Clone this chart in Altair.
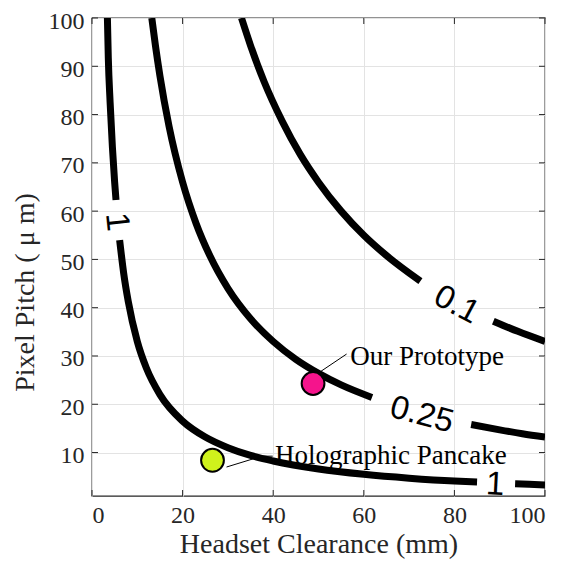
import altair as alt
import pandas as pd

# ---- data ----
# contour "1"
c1_a_x = [3.4, 3.6, 4.0, 4.5, 5.0, 5.3]
c1_a_y = [100, 91.7, 82.5, 73.3, 66.0, 62.3]
c1_b_x = [6.1, 7, 8, 10, 12, 15, 20, 25, 30, 35, 40, 50, 60, 70, 80, 85]
c1_b_y = [54, 47.1, 41.3, 33, 27.5, 22, 16.5, 13.2, 11, 9.4, 8.25, 6.6, 5.5, 4.7, 4.1, 3.9]
c1_c_x = [93.4, 96.5, 100]
c1_c_y = [3.53, 3.42, 3.3]
# contour "0.25"
c25_a_x = [13.2, 14, 15, 17, 20, 23, 26, 30, 35, 40, 45, 50, 55, 61.8]
c25_a_y = [100, 94.3, 88, 77.6, 66, 57.4, 50.8, 44, 37.7, 33, 29.3, 26.4, 24, 21.4]
c25_b_x = [83.7, 90, 95, 100]
c25_b_y = [15.8, 14.7, 13.9, 13.2]
# contour "0.1"
c10_a_x = [33, 35, 38, 42, 46, 50, 55, 60, 65, 72.5]
c10_a_y = [100, 94.3, 86.8, 78.6, 71.7, 66, 60, 55, 50.8, 45.5]
c10_b_x = [88.6, 94, 100]
c10_b_y = [37.2, 35.1, 33]

label_text = ["1", "1", "0.25", "0.1"]
label_x = [5.5, 89.0, 72.8, 80.5]
label_y = [57.8, 3.4, 17.8, 40.6]
label_angle = [84, 3, 15, 28]

point_names = ["Our Prototype", "Holographic Pancake"]
point_x = [48.8, 26.6]
point_y = [24.3, 8.4]
point_colors = ["#F5148C", "#CFF21C"]

note_x = [57.0, 40.4]
note_y = [29.7, 9.25]
lead_id = ["a", "a", "b", "b", "b"]
lead_x = [50.5, 56.2, 29.7, 37.5, 39.9]
lead_y = [26.8, 30.4, 7.0, 9.25, 9.25]

x_ticks = [0, 20, 40, 60, 80, 100]
y_ticks = [10, 20, 30, 40, 50, 60, 70, 80, 90, 100]

# ---- tables ----
segs = [("1a", c1_a_x, c1_a_y), ("1b", c1_b_x, c1_b_y), ("1c", c1_c_x, c1_c_y),
        ("25a", c25_a_x, c25_a_y), ("25b", c25_b_x, c25_b_y),
        ("10a", c10_a_x, c10_a_y), ("10b", c10_b_x, c10_b_y)]
rows = []
for sid, xs_, ys_ in segs:
    for i, (a, b) in enumerate(zip(xs_, ys_)):
        rows.append({"seg": sid, "x": a, "y": b, "o": i})
curves = pd.DataFrame(rows)
labels = pd.DataFrame({"t": label_text, "x": label_x, "y": label_y, "a": label_angle})
pts = pd.DataFrame({"n": point_names, "x": point_x, "y": point_y, "c": point_colors})
notes = pd.DataFrame({"n": point_names, "x": note_x, "y": note_y})
leads = pd.DataFrame({"id": lead_id, "x": lead_x, "y": lead_y, "o": list(range(len(lead_x)))})
xt = pd.DataFrame({"v": x_ticks})
yt = pd.DataFrame({"v": y_ticks})

W, H = 453, 478
SERIF = "Liberation Serif"
AX = "#262626"

xs = alt.Scale(domain=[0, 100], nice=False, zero=False)
ys = alt.Scale(domain=[1, 100], nice=False, zero=False)

xaxis = alt.Axis(values=x_ticks, title="Headset Clearance (mm)", labelPadding=7,
                 titleBaseline="alphabetic", titleY=56, titleFontSize=28)
yaxis = alt.Axis(values=y_ticks, title="Pixel Pitch ( μ m)", labelPadding=8, labelOffset=3,
                 titleX=-59, titleY=274, titleBaseline="alphabetic", titleFontSize=28)

lines = alt.Chart(curves).mark_line(color="black", strokeWidth=7, strokeCap="butt",
                                    interpolate="monotone", clip=True).encode(
    x=alt.X("x:Q", scale=xs, axis=xaxis),
    y=alt.Y("y:Q", scale=ys, axis=yaxis),
    detail="seg:N",
    order="o:Q",
)

clabels = alt.Chart(labels).mark_text(font="Liberation Sans", fontSize=33, color="black",
                                      align="center", baseline="middle").encode(
    x=alt.X("x:Q", scale=xs), y=alt.Y("y:Q", scale=ys), text="t:N",
    angle=alt.Angle("a:Q", scale=None),
)

leadlines = alt.Chart(leads).mark_line(color="black", strokeWidth=1).encode(
    x=alt.X("x:Q", scale=xs), y=alt.Y("y:Q", scale=ys), detail="id:N", order="o:Q")

points = alt.Chart(pts).mark_point(shape="circle", filled=True, size=520, stroke="black",
                                   strokeWidth=2, opacity=1).encode(
    x=alt.X("x:Q", scale=xs), y=alt.Y("y:Q", scale=ys),
    fill=alt.Fill("c:N", scale=None),
)

ntext = alt.Chart(notes).mark_text(font=SERIF, fontSize=27, color="black", align="left",
                                   baseline="middle").encode(
    x=alt.X("x:Q", scale=xs), y=alt.Y("y:Q", scale=ys), text="n:N")

tick_len = 6
tb = alt.Chart(xt).mark_rule(color=AX, strokeWidth=1).encode(
    x=alt.X("v:Q", scale=xs), y=alt.value(H), y2=alt.value(H - tick_len))
tt = alt.Chart(xt).mark_rule(color=AX, strokeWidth=1).encode(
    x=alt.X("v:Q", scale=xs), y=alt.value(0), y2=alt.value(tick_len))
tl = alt.Chart(yt).mark_rule(color=AX, strokeWidth=1).encode(
    y=alt.Y("v:Q", scale=ys), x=alt.value(0), x2=alt.value(tick_len))
tr = alt.Chart(yt).mark_rule(color=AX, strokeWidth=1).encode(
    y=alt.Y("v:Q", scale=ys), x=alt.value(W), x2=alt.value(W - tick_len))

chart = alt.layer(lines, tb, tt, tl, tr, clabels, leadlines, points, ntext).properties(
    width=W, height=H,
    background="white",
    autosize=alt.AutoSizeParams(type="none"),
    padding={"left": 84, "top": 10, "right": 16, "bottom": 66},
).configure_view(stroke=AX, strokeWidth=1.3).configure_axis(
    grid=True, gridColor="#e3e3e3", domain=False, ticks=False,
    labelFont=SERIF, labelFontSize=24, labelColor=AX,
    titleFont=SERIF, titleFontWeight="normal", titleColor=AX,
)

chart.save("out.html", embed_options={"renderer": "svg", "actions": False})
